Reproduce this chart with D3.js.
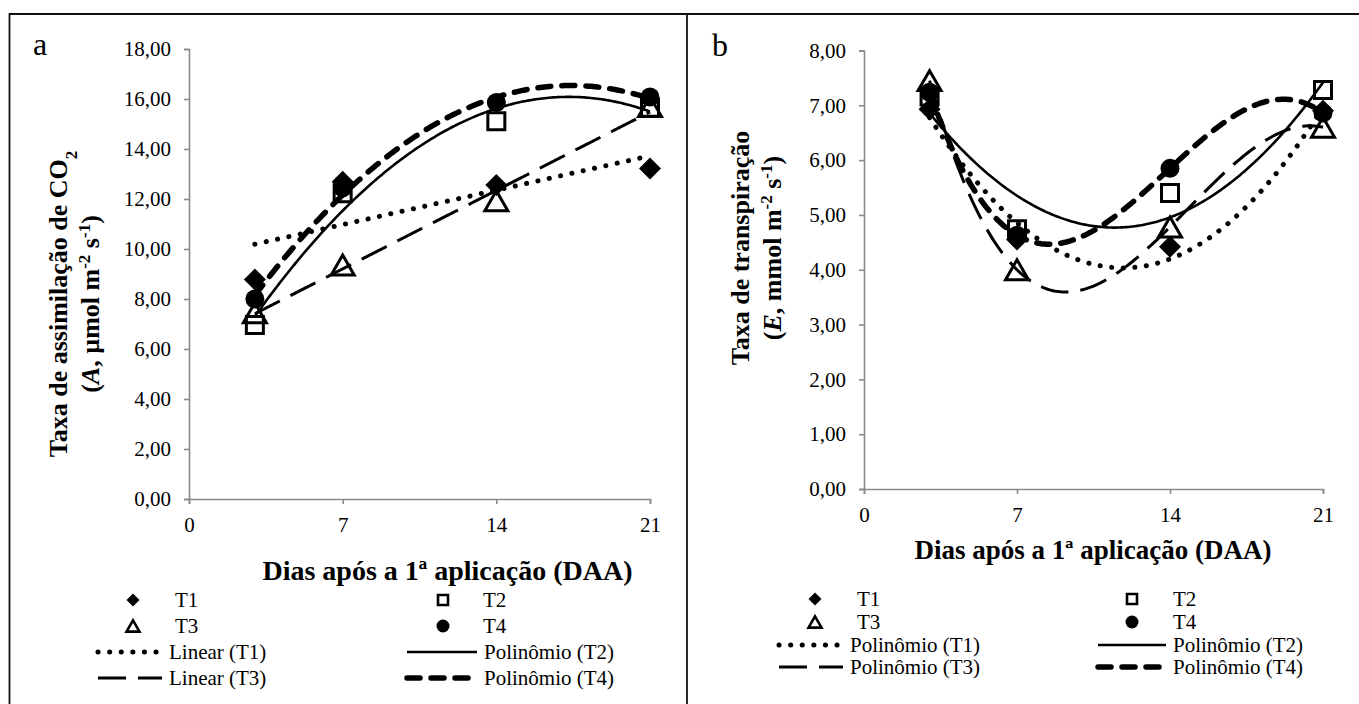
<!DOCTYPE html>
<html>
<head>
<meta charset="utf-8">
<script src="https://cdn.jsdelivr.net/npm/d3@7"></script>
</head>
<body style="margin:0;background:#fff">
<svg id="chart" width="1359" height="704" style="display:block;font-family:'Liberation Serif','Times New Roman',serif"></svg>
<script>
// dados
const days = [3, 7, 14, 21];
const dayTicks = [0, 7, 14, 21];
const seriesNames = ["T1", "T2", "T3", "T4"];

// a: taxa de assimilação de CO2 (A)
const assimT1 = [8.78, 12.69, 12.56, 13.22];
const assimT2 = [6.96, 12.23, 15.11, 15.65];
const assimT3 = [7.45, 9.36, 11.93, 15.70];
const assimT4 = [8.00, 12.45, 15.86, 16.08];
const assimOrders = [1, 2, 1, 2];
const assimTicks = [0, 2, 4, 6, 8, 10, 12, 14, 16, 18];

// b: taxa de transpiração (E)
const transpT1 = [6.93, 4.55, 4.42, 6.90];
const transpT2 = [7.16, 4.74, 5.40, 7.28];
const transpT3 = [7.45, 4.00, 4.78, 6.60];
const transpT4 = [7.24, 4.63, 5.85, 6.86];
const transpOrders = [2, 2, 3, 3];
const transpTicks = [0, 1, 2, 3, 4, 5, 6, 7, 8];

const FONT = "Liberation Serif";
const fmt = d3.formatLocale({ decimal: ",", thousands: ".", grouping: [3], currency: ["", ""] }).format(".2f");
const svg = d3.select("#chart");

// moldura
svg.append("path")
  .attr("d", "M9.5,704 V14 H1359 M687,14 V704")
  .attr("fill", "none")
  .attr("stroke", "#111")
  .attr("stroke-width", 1.8);

// least squares polynomial fit (trendline as Excel)
function polyfit(xs, ys, order) {
  const n = order + 1;
  const A = [];
  for (let i = 0; i < n; i++) {
    const row = [];
    for (let j = 0; j < n; j++) row.push(d3.sum(xs, x => Math.pow(x, i + j)));
    row.push(d3.sum(xs, (x, k) => ys[k] * Math.pow(x, i)));
    A.push(row);
  }
  for (let c = 0; c < n; c++) {
    let p = c;
    for (let r = c + 1; r < n; r++) if (Math.abs(A[r][c]) > Math.abs(A[p][c])) p = r;
    [A[c], A[p]] = [A[p], A[c]];
    for (let r = 0; r < n; r++) {
      if (r === c) continue;
      const f = A[r][c] / A[c][c];
      for (let k = c; k <= n; k++) A[r][k] -= f * A[c][k];
    }
  }
  const coef = A.map((row, i) => row[n] / row[i]);
  return x => coef.reduce((s, c, i) => s + c * Math.pow(x, i), 0);
}

const lineStyles = [
  { width: 5, dash: "0.1 11.5", cap: "round" },
  { width: 2.6, dash: null, cap: "butt" },
  { width: 3, dash: "28 12", cap: "butt" },
  { width: 5.5, dash: "13 11", cap: "round" }
];

function markerPath(i, s) {
  if (i === 0) return `M0,${-s}L${s},0L0,${s}L${-s},0Z`;
  if (i === 1) return `M${-s},${-s}H${s}V${s}H${-s}Z`;
  if (i === 2) { const h = s * 1.732; return `M0,${-h / 2}L${s},${h / 2}H${-s}Z`; }
  return d3.arc()({ innerRadius: 0, outerRadius: s, startAngle: 0, endAngle: 2 * Math.PI });
}
const markerFill = ["#000", "none", "none", "#000"];
const markerStroke = [0, 3, 3, 0];
const markerSize = [11, 8.5, 11.5, 9.5];
const legendSize = [6.5, 5, 6.5, 6.5];

function styleLine(sel, st) {
  sel.attr("fill", "none")
    .attr("stroke", "#000")
    .attr("stroke-width", st.width)
    .attr("stroke-linecap", st.cap)
    .attr("stroke-dasharray", st.dash);
}

function serif(sel, size) {
  sel.attr("font-family", FONT)
    .style("font-family", "'Liberation Serif', 'Times New Roman', serif")
    .attr("fill", "#000");
  if (size) sel.attr("font-size", size).style("font-size", size + "px");
  return sel;
}

function addText(parent, size) {
  return parent.append("text").call(serif, size);
}

function drawPanel(cfg) {
  const g = svg.append("g");
  const x = d3.scaleLinear().domain([0, 21]).range([cfg.left, cfg.right]);
  const y = d3.scaleLinear().domain([0, d3.max(cfg.yTicks)]).range([cfg.bottom, cfg.top]);

  const yAxis = g.append("g")
    .attr("transform", `translate(${cfg.left},0)`)
    .call(d3.axisLeft(y).tickValues(cfg.yTicks).tickFormat(fmt).tickSize(5).tickPadding(13));
  const xAxis = g.append("g")
    .attr("transform", `translate(0,${cfg.bottom})`)
    .call(d3.axisBottom(x).tickValues(dayTicks).tickSize(5).tickPadding(13));
  [yAxis, xAxis].forEach(a => {
    a.attr("font-family", null).attr("font-size", null);
    a.selectAll("path, line").attr("stroke", "#8a8a8a").attr("stroke-width", 1.6);
    a.selectAll("text").call(serif, 21);
  });

  // trendlines
  const line = d3.line().x(d => x(d[0])).y(d => y(d[1]));
  const xsFine = d3.range(days[0], days[days.length - 1] + 0.001, 0.1);
  cfg.series.forEach((vals, i) => {
    const f = polyfit(days, vals, cfg.orders[i]);
    g.append("path")
      .attr("d", line(xsFine.map(t => [t, f(t)])))
      .call(styleLine, lineStyles[i]);
  });

  // marcadores
  cfg.series.forEach((vals, i) => {
    g.selectAll(null)
      .data(vals)
      .enter()
      .append("path")
      .attr("transform", (d, k) => `translate(${x(days[k])},${y(d)})`)
      .attr("d", markerPath(i, markerSize[i]))
      .attr("fill", markerFill[i])
      .attr("stroke", markerStroke[i] ? "#000" : null)
      .attr("stroke-width", markerStroke[i]);
  });

  // letra do painel
  addText(g, 32).attr("x", cfg.letter[0]).attr("y", cfg.letter[1]).text(cfg.letter[2]);

  // título eixo x
  addText(g, cfg.xTitle[2])
    .attr("x", cfg.xTitle[0]).attr("y", cfg.xTitle[1])
    .attr("text-anchor", "middle")
    .attr("font-weight", "bold")
    .text("Dias após a 1ª aplicação (DAA)");

  // título eixo y (duas linhas)
  cfg.yTitle.lines.forEach((parts, li) => {
    const t = addText(g, 26)
      .attr("transform", `translate(${cfg.yTitle.xs[li]},${cfg.yTitle.cy}) rotate(-90)`)
      .attr("y", 8)
      .attr("text-anchor", "middle")
      .attr("font-weight", "bold");
    parts.forEach(p => {
      const ts = t.append("tspan").call(serif).attr("font-weight", "bold").text(p.t);
      if (p.i) ts.attr("font-style", "italic");
      if (p.s) ts.attr("baseline-shift", p.s).attr("font-size", 17).style("font-size", "17px");
    });
  });

  // legenda
  const L = cfg.legend;
  seriesNames.forEach((name, i) => {
    const col = i % 2, row = Math.floor(i / 2);
    g.append("path")
      .attr("transform", `translate(${L.marker[col]},${L.rows[row]})`)
      .attr("d", markerPath(i, legendSize[i]))
      .attr("fill", markerFill[i])
      .attr("stroke", markerStroke[i] ? "#000" : null)
      .attr("stroke-width", markerStroke[i] ? 2.6 : 0);
    addText(g, 21).attr("x", L.text[col]).attr("y", L.rows[row] + 7).text(name);
  });
  seriesNames.forEach((name, i) => {
    const col = i % 2, row = 2 + Math.floor(i / 2);
    const ly = L.rows[row];
    g.append("path")
      .attr("d", `M${L.line[col][0]},${ly}H${L.line[col][1]}`)
      .call(styleLine, lineStyles[i]);
    addText(g, 21).attr("x", L.line[col][1] + 7).attr("y", ly + 7)
      .text(`${cfg.orders[i] === 1 ? "Linear" : "Polinômio"} (${name})`);
  });
}

drawPanel({
  left: 189, right: 650, top: 49, bottom: 499,
  yTicks: assimTicks,
  series: [assimT1, assimT2, assimT3, assimT4],
  orders: assimOrders,
  letter: [33, 55, "a"],
  xTitle: [447.5, 580, 28],
  yTitle: {
    xs: [58.5, 91], cy: 304,
    lines: [
      [{ t: "Taxa de assimilação de CO" }, { t: "2", s: "sub" }],
      [{ t: "(" }, { t: "A", i: true }, { t: ", µmol m" }, { t: "-2", s: "super" }, { t: " s" }, { t: "-1", s: "super" }, { t: ")" }]
    ]
  },
  legend: {
    rows: [600, 626, 652, 678],
    marker: [133, 443], text: [175, 483],
    line: [[98, 162], [407, 477]]
  }
});

drawPanel({
  left: 864, right: 1323, top: 50.5, bottom: 489,
  yTicks: transpTicks,
  series: [transpT1, transpT2, transpT3, transpT4],
  orders: transpOrders,
  letter: [712, 56, "b"],
  xTitle: [1093, 559, 27],
  yTitle: {
    xs: [740.6, 773], cy: 248,
    lines: [
      [{ t: "Taxa de transpiração" }],
      [{ t: "(" }, { t: "E", i: true }, { t: ", mmol m" }, { t: "-2", s: "super" }, { t: " s" }, { t: "-1", s: "super" }, { t: ")" }]
    ]
  },
  legend: {
    rows: [599, 622, 645, 667],
    marker: [815, 1132], text: [857, 1173],
    line: [[779, 843], [1098, 1166]]
  }
});
</script>
</body>
</html>
